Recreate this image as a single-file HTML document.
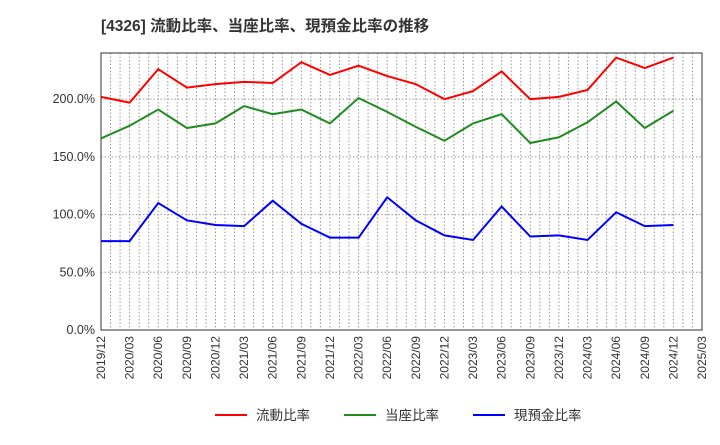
<!DOCTYPE html>
<html><head><meta charset="utf-8"><style>
body{margin:0;background:#fff;font-family:"Liberation Sans","Noto Sans CJK JP",sans-serif}
</style></head><body>
<svg id="c" width="720" height="440" xmlns="http://www.w3.org/2000/svg">
<text x="101" y="31" font-size="15.5" font-weight="bold" fill="#333" font-family="Liberation Sans, Noto Sans CJK JP, sans-serif">[4326]  流動比率、当座比率、現預金比率の推移</text>
</svg>
<script>
const xLabels=["2019/12","2020/03","2020/06","2020/09","2020/12","2021/03","2021/06","2021/09","2021/12","2022/03","2022/06","2022/09","2022/12","2023/03","2023/06","2023/09","2023/12","2024/03","2024/06","2024/09","2024/12","2025/03"];
const yTicks=[0,50,100,150,200];
const current=[202,197,226,210,213,215,214,232,221,229,220,213,200,207,224,200,202,208,236,227,236];
const quick=[166,177,191,175,179,194,187,191,179,201,189,176,164,179,187,162,167,180,198,175,190];
const cash=[77,77,110,95,91,90,112,92,80,80,115,95,82,78,107,81,82,78,102,90,91];
const svg=document.getElementById('c');const NS='http://www.w3.org/2000/svg';
const L=101,R=702,T=53,B=330,yMax=240;
const xs=i=>L+(R-L)*i/(xLabels.length-1);
const ys=v=>B-(B-T)*v/yMax;
function mk(t,a,p){const e=document.createElementNS(NS,t);for(const k in a)e.setAttribute(k,a[k]);(p||svg).appendChild(e);return e;}
for(let m=1;m<(xLabels.length-1)*3;m++){const x=L+(R-L)*m/((xLabels.length-1)*3);
const g=mk('line',{x1:x,x2:x,y1:T,y2:B,stroke:'#999','stroke-dasharray':'1.5,2','stroke-width':1});

}
yTicks.forEach(v=>{const y=ys(v);
const g=mk('line',{x1:L,x2:R,y1:y,y2:y,stroke:'#999','stroke-dasharray':'1.5,2'});


const t=mk('text',{x:L-6,y:y+4,'text-anchor':'end','font-size':12.5,fill:'#333'});t.textContent=v.toFixed(1)+'%';

});
const fr=mk('rect',{x:L,y:T,width:R-L,height:B-T,fill:'none',stroke:'#333','stroke-width':1});


xLabels.forEach((s,i)=>{const x=xs(i);const t=mk('text',{x:x+4,y:B+6,'text-anchor':'end','font-size':12,fill:'#333',transform:`rotate(-90 ${x+4} ${B+6})`});t.textContent=s;

});
[[current,'#f00','current-ratio-line'],[quick,'#228b22','quick-ratio-line'],[cash,'#00f','cash-ratio-line']].forEach(([d,c,n])=>{
const p=mk('polyline',{points:d.map((v,i)=>xs(i)+','+ys(v)).join(' '),fill:'none',stroke:c,'stroke-width':2});

});
[['流動比率','#f00',215],['当座比率','#228b22',344],['現預金比率','#00f',473]].forEach(([s,c,x])=>{
const g=mk('g',{});


mk('line',{x1:x,x2:x+32,y1:415,y2:415,stroke:c,'stroke-width':2},g);
const t=mk('text',{x:x+41,y:420,'font-size':13.5,fill:'#333'},g);t.textContent=s;});
</script>
</body></html>
